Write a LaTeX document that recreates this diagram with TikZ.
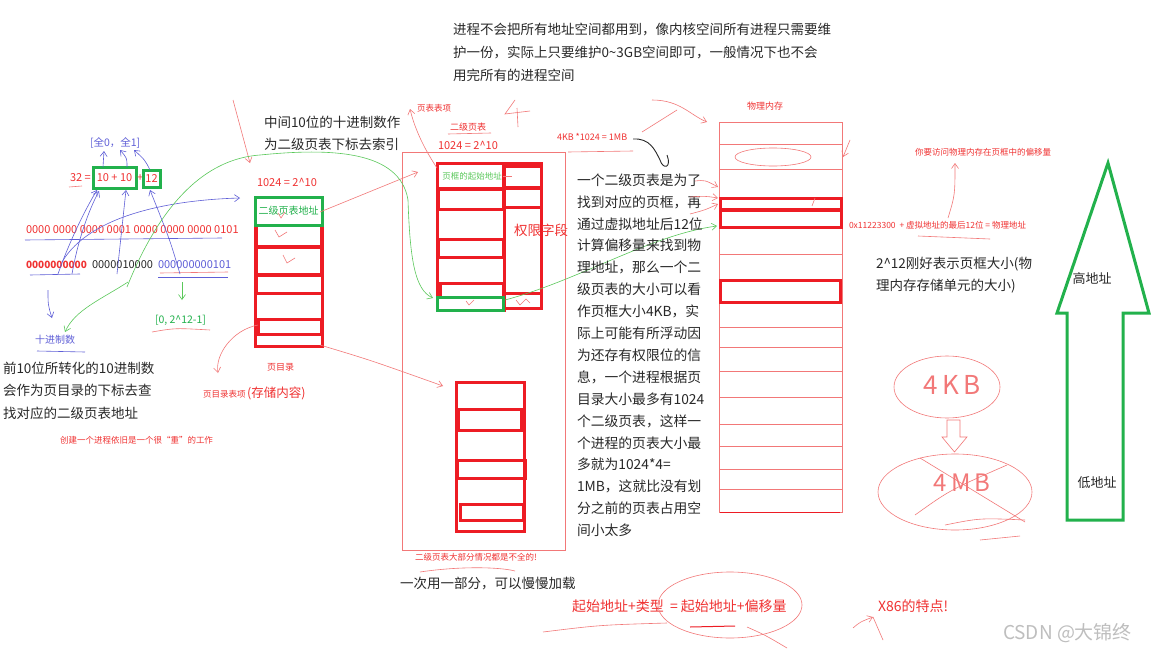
\documentclass[tikz,border=0pt]{standalone}
\usepackage{fontspec}
\setmainfont{Noto Sans CJK SC}
\usetikzlibrary{arrows.meta}
\definecolor{tred}{RGB}{240,50,50}
\definecolor{bred}{RGB}{237,28,36}
\definecolor{pred}{RGB}{242,120,120}
\definecolor{bgreen}{RGB}{34,177,76}
\definecolor{lgreen}{RGB}{90,200,90}
\definecolor{tblue}{RGB}{95,95,215}
\definecolor{tblack}{RGB}{40,40,40}
\definecolor{wm}{RGB}{190,190,190}
\begin{document}
\begin{tikzpicture}[x=1pt,y=-1pt,
  fs/.style={font=\fontsize{#1}{#1}\selectfont},
  txt/.style={inner sep=0pt,outer sep=0pt,anchor=west},
  thickbox/.style={draw=bred,line width=3pt},
  thinbox/.style={draw=pred,line width=0.8pt},
  gbox/.style={draw=bgreen,line width=3pt,inner sep=0pt,outer sep=0pt},
  hand/.style={-{Straight Barb[length=5pt,width=7pt]},line width=0.6pt},
  line width=0.6pt]
\useasboundingbox[fill=white] (0,0) rectangle (1157,653);

% ---------- top text ----------
\foreach \t [count=\i] in {进程不会把所有地址空间都用到，像内核空间所有进程只需要维,护一份，实际上只要维护0\textasciitilde3GB空间即可，一般情况下也不会,用完所有的进程空间}
  \node[txt,fs=13.5,text=tblack] (top\i) at ({453},{30+(\i-1)*22.5}) {\t};

% ---------- left formula ----------
\node[txt,fs=10.5,text=tblue] (q) at (90,143) {[全0，全1]};
\node[txt,fs=11,text=tred] (n32) at (70,178) {32 =};
\node[gbox,minimum width=43pt,minimum height=21pt,text=tred,fs=11] (b1010) at (114.5,178) {10 + 10};
\node[txt,fs=11,text=tred] (plus) at (137,178) {+};
\node[gbox,minimum width=17pt,minimum height=17pt,text=tred,fs=11] (b12) at (151.5,178.5) {12};
\draw[pred] (69,187) -- (82,186);

\node[txt,fs=11,text=tred] (bin1) at (26,230) {0000 0000 0000 0001 0000 0000 0000 0101};
\node[txt,fs=11,text=tred,font=\bfseries] (g1) at (26,265) {0000000000};
\node[txt,fs=11,text=tblack] (g2) at (92,265) {0000010000};
\node[txt,fs=11,text=tblue] (g3) at (158,265) {000000000101};
\draw[tblue] (25,240) -- (222,238);
\draw[pred] (160,273) -- (228,272);
\draw[tblue] (158,277) -- (228,277);
\draw[tblue] (30,275) -- (80,274);

\draw[tblue,hand] (103,167) -- (104,151);
\draw[tblue,hand] (127,167) .. controls (127,158) .. (120,150);
\draw[tblue,hand] (150,170) .. controls (145,160) .. (134,150);
\draw[tblue,hand] (58,274) .. controls (70,240) and (85,210) .. (97,190);
\draw[tblue,hand] (72,274) .. controls (78,240) and (88,212) .. (99,191);
\draw[tblue,hand] (117,274) -- (126,190);
\draw[tblue,hand] (180,274) .. controls (170,240) .. (150,190);
\draw[tblue,hand] (62,262) .. controls (90,215) and (170,200) .. (240,198);
\draw[tblue,hand] (48,290) .. controls (48,305) .. (52,318);

\node[txt,fs=10,text=tblue] (dec) at (35,340) {十进制数};
\draw[tblue] (37,351) -- (85,352);
\draw[lgreen,hand] (128,282) .. controls (100,300) and (75,310) .. (65,332);
\draw[lgreen,hand] (182,282) -- (182,300);
\node[txt,fs=10.5,text=bgreen] (rng) at (155,320) {[0, 2\textasciicircum12-1]};
\draw[pred] (152,332) .. controls (175,328) .. (210,330);

\foreach \t [count=\i] in {前10位所转化的10进制数,会作为页目录的下标去查,找对应的二级页表地址}
  \node[txt,fs=13.5,text=tblack] (lt\i) at ({3},{368+(\i-1)*22.5}) {\t};
\node[txt,fs=8.5,text=tred] (heavy) at (60,440) {创建一个进程依旧是一个很“重”的工作};

% ---------- page directory ----------
\node[txt,fs=13.5,text=tblack] (mid1) at (264,122) {中间10位的十进制数作};
\node[txt,fs=13.5,text=tblack] (mid2) at (264,144) {为二级页表下标去索引};
\node[txt,fs=11,text=tred] (pdsz) at (257,182) {1024 = 2\textasciicircum10};
\draw[thickbox] (255,197) rectangle (322,346);
\draw[thickbox] (256,225) rectangle (321,246);
\draw[thickbox] (256,247) rectangle (321,274);
\draw[thickbox] (256,275) rectangle (322,293);
\draw[thickbox] (258,319) rectangle (321,334);
\node[gbox,anchor=north west,minimum width=67pt,minimum height=28pt,text=bgreen,fs=10] (pdg) at (255,197) {二级页表地址};
\draw[pred] (278,213) -- (281,218) -- (285,212);
\draw[pred] (275,230) -- (279,237) -- (287,232);
\draw[pred] (283,255) -- (287,263) -- (295,258);
\node[txt,fs=9,text=tred] (pdl) at (267,367) {页目录};
\node[txt,text=tred] (pde) at (203,393) {{\fontsize{8.5}{8.5}\selectfont 页目录表项}\,{\fontsize{12.5}{12.5}\selectfont (存储内容)}};
\draw[pred,hand] (258,325) .. controls (232,330) and (215,355) .. (218,373);
\draw[pred,hand] (233,100) -- (250,163);

% ---------- second level page tables ----------
\draw[thinbox] (402,152) rectangle (565,550);
\node[txt,fs=8.5,text=tred] (pte) at (417,108) {页表表项};
\node[txt,fs=9,text=tred] (l2) at (450,127) {二级页表};
\draw[pred] (448,134) -- (491,133);
\node[txt,fs=11,text=tred] (l2sz) at (438,145) {1024 = 2\textasciicircum10};
\draw[thickbox] (437,163) rectangle (504,310);
\draw[thickbox] (504,163) rectangle (541,308);
\draw[thickbox] (437,163) rectangle (503,188);
\draw[thickbox] (438,189) rectangle (503,209);
\draw[thickbox] (438,239) rectangle (503,257);
\draw[thickbox] (440,283) rectangle (503,297);
\draw[thickbox] (504,166) rectangle (541,187);
\draw[thickbox] (504,188) rectangle (541,207);
\draw[thickbox] (504,293) rectangle (541,308);
\node[gbox,anchor=north west,minimum width=66pt,minimum height=13pt] (l2g) at (437,297) {};
\node[fs=8.5,text=lgreen,inner sep=0pt] (pfa) at (472,176) {页框的起始地址};
\node[txt,fs=13.5,text=tred] (perm) at (514,230) {权限字段};
\draw[pred] (503,176) -- (512,176);
\draw[pred] (466,301) -- (469,305) -- (474,300);
\draw[pred] (516,300) -- (520,305) -- (526,299) -- (530,303);

\draw[thickbox] (456,382) rectangle (524,531);
\draw[thickbox] (458,409) rectangle (521,430);
\draw[thickbox] (457,460) rectangle (525,478);
\draw[thickbox] (460,504) rectangle (523,520);
\node[txt,fs=8.5,text=tred] (part) at (415,557) {二级页表大部分情况都是不全的!};
\draw[pred] (420,572) .. controls (460,566) and (500,567) .. (515,571);
\node[txt,fs=13.5,text=tblack] (lazy) at (400,584) {一次用一部分，可以慢慢加载};

\draw[pred,hand] (320,212) -- (418,172);
\draw[pred,hand] (320,345) .. controls (370,360) .. (443,386);
\draw[pred,hand] (437,168) .. controls (425,150) and (415,130) .. (410,109);
\draw[pred] (515,100) -- (505,114) -- (530,111);
\draw[pred] (517,108) -- (518,127);

% green indexing path
\draw[lgreen,hand] (127,287) .. controls (150,230) and (190,160) .. (260,155)
   .. controls (330,148) and (400,150) .. (408,200) .. controls (410,260) and (415,290) .. (433,298);
\draw[lgreen,hand] (505,300) .. controls (580,280) and (650,235) .. (717,226);

% ---------- middle text ----------
\node[txt,fs=9,text=tred] (kb) at (557,137) {4KB *1024 = 1MB};
\draw[pred] (568,152) -- (633,151);
\draw[tblack,line width=0.9pt] (633,139) .. controls (650,138) and (655,150) .. (660,160)
   .. controls (663,170) and (672,168) .. (667,155);
\draw[pred,hand] (652,100) .. controls (680,100) and (690,115) .. (707,122);
\draw[pred] (677,110) -- (642,132);
\foreach \t [count=\i] in {一个二级页表是为了,找到对应的页框，再,通过虚拟地址后12位,计算偏移量来找到物,理地址，那么一个二,级页表的大小可以看,作页框大小4KB，实,际上可能有所浮动因,为还存有权限位的信,息，一个进程根据页,目录大小最多有1024,个二级页表，这样一,个进程的页表大小最,多就为1024*4=,1MB，这就比没有划,分之前的页表占用空,间小太多}
  \node[txt,fs=13.8,text=tblack] (mt\i) at ({577},{180+(\i-1)*21.9}) {\t};
\draw[pred,hand] (695,181) .. controls (705,180) .. (718,187);
\draw[pred,hand] (690,197) .. controls (705,196) .. (718,198);
\draw[pred,hand] (690,214) .. controls (705,210) .. (718,204);

% ---------- physical memory ----------
\node[txt,fs=9,text=tred] (pm) at (747,106) {物理内存};
\draw[thinbox] (719,122) rectangle (842,512);
\foreach \yy in {144,169,254,327,347,371,397,424,446,469,489}
  \draw[thinbox] (719,\yy) -- (842,\yy);
\draw[thickbox] (720,198) rectangle (841,209);
\draw[thickbox] (720,210) rectangle (841,227);
\draw[thickbox] (720,280) rectangle (840,302);
\draw[draw=bred,line width=1pt] (720,512) -- (840,512);
\draw[pred] (773,157) ellipse (38pt and 9pt);
\draw[pred,hand] (850,140) -- (843,157);
\draw[pred] (815,198) -- (812,206);

\node[txt,fs=8.5,text=tred] (off) at (915,152) {你要访问物理内存在页框中的偏移量};
\node[txt,fs=8.5,text=tred] (formula) at (849,225) {0x11223300 \ + 虚拟地址的最后12位 = 物理地址};
\draw[pred,hand] (948,218) .. controls (955,195) .. (955,163);
\draw[pred] (918,236) -- (990,239);
\node[txt,fs=13.5,text=tblack] (p1) at (876,264) {2\textasciicircum12刚好表示页框大小(物};
\node[txt,fs=13.5,text=tblack] (p2) at (876,286) {理内存存储单元的大小)};

% ---------- big green arrow ----------
\draw[bgreen,line width=3pt,line join=miter] (1108,163) -- (1149,313) -- (1123,313) -- (1123,520)
   -- (1067,520) -- (1067,313) -- (1057,313) -- cycle;
\node[fs=13,text=tblack] (hi) at (1092,279) {高地址};
\node[fs=13,text=tblack] (lo) at (1097,483) {低地址};

% ---------- 4KB sketch ----------
\draw[pred] (947,387) ellipse (53pt and 31pt);
\node[fs=26,text=pred] (k4) at (952,385) {4\,K\,B};
\draw[pred] (947,420) -- (947,437) -- (942,437) -- (954.5,452) -- (967,437) -- (960,437) -- (960,420) -- cycle;
\draw[pred] (955,492) ellipse (77pt and 38pt);
\node[fs=24,text=pred] (m4) at (962,483) {4\,M\,B};
\draw[pred] (920,458) -- (1025,522);
\draw[pred] (915,515) .. controls (950,490) .. (1007,465);
\draw[pred] (945,525) .. controls (980,518) .. (1025,520);
\draw[pred] (980,540) -- (1020,536);

% ---------- bottom ----------
\node[txt,fs=14,text=tred] (eq) at (572,606) {起始地址+类型 \ = 起始地址+偏移量};
\draw[pred] (730,605) ellipse (72pt and 33pt);
\draw[pred] (543,632) .. controls (600,625) .. (667,623);
\draw[bred,line width=1pt] (690,627) -- (735,626);
\draw[pred] (747,627) .. controls (765,635) .. (787,648);
\node[txt,fs=14,text=tred] (x86) at (878,606) {X86的特点!};
\draw[pred,hand] (853,628) .. controls (860,622) .. (873,617);
\draw[pred] (873,617) -- (883,640);
\node[txt,fs=19,text=wm] (csdn) at (1003,633) {CSDN @大锦终};
\end{tikzpicture}
\end{document}
